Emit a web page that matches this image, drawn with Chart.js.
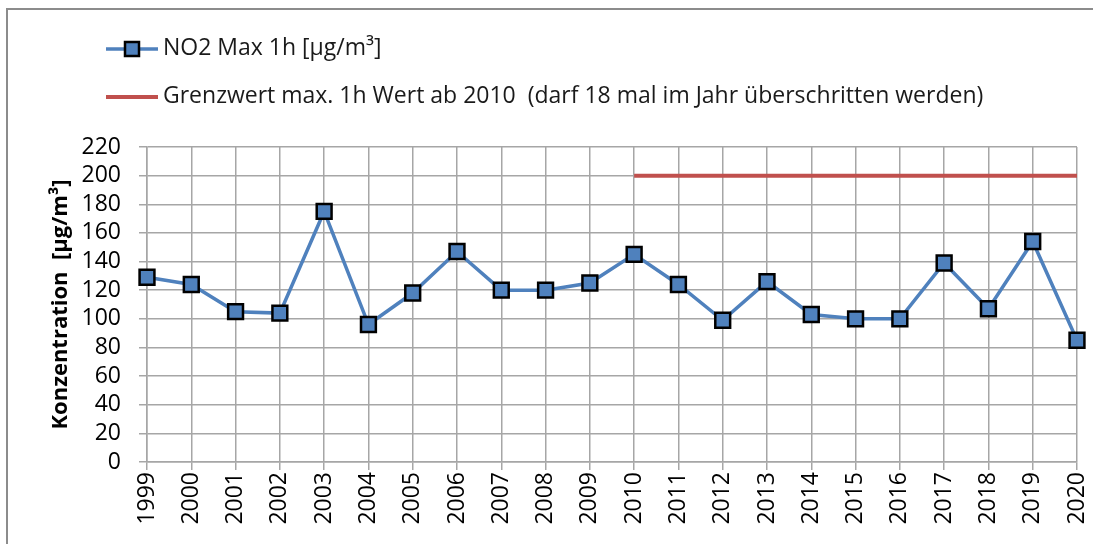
<!DOCTYPE html>
<html>
<head>
<meta charset="utf-8">
<script src="https://cdn.jsdelivr.net/npm/chart.js@4"></script>
<style>
  html, body { margin: 0; padding: 0; background: #fff; }
  #wrap { position: relative; width: 1093px; height: 544px; }
</style>
</head>
<body>
<div id="wrap"><canvas id="no2Chart" width="1093" height="544"></canvas></div>
<script>
// Jahre (x-Achse)
const years = ['1999', '2000', '2001', '2002', '2003', '2004', '2005', '2006', '2007', '2008', '2009',
               '2010', '2011', '2012', '2013', '2014', '2015', '2016', '2017', '2018', '2019', '2020'];

// NO2 Max 1h Werte in µg/m³
const no2Max = [129, 124, 105, 104, 175, 96, 118, 147, 120, 120, 125,
                145, 124, 99, 126, 103, 100, 100, 139, 107, 154, 85];

// Grenzwert 200 µg/m³ ab 2010
const grenzwert = [null, null, null, null, null, null, null, null, null, null, null,
                   200, 200, 200, 200, 200, 200, 200, 200, 200, 200, 200];

const labelNo2 = 'NO2 Max 1h [µg/m³]';
const labelGrenz = 'Grenzwert max. 1h Wert ab 2010  (darf 18 mal im Jahr überschritten werden)';

const blue = '#4f81bd';
const red = '#c0504d';
const gridGrey = '#a6a6a6';
const fontName = "'Open Sans', 'Noto Sans', sans-serif";

// Rahmen und Legende selbst zeichnen (wie im Original, untereinander)
const frameAndLegend = {
    id: 'frameAndLegend',
    afterDraw(chart) {
        const ctx = chart.ctx;
        ctx.save();
        // grauer Rahmen
        ctx.strokeStyle = '#8c8c8c';
        ctx.lineWidth = 2;
        ctx.beginPath();
        ctx.moveTo(7, 560);
        ctx.lineTo(7, 9);
        ctx.lineTo(1100, 9);
        ctx.stroke();

        // Legende 1: Linie mit Quadrat
        ctx.strokeStyle = blue;
        ctx.lineWidth = 3.5;
        ctx.beginPath();
        ctx.moveTo(106, 49);
        ctx.lineTo(158, 49);
        ctx.stroke();
        ctx.fillStyle = blue;
        ctx.strokeStyle = '#000';
        ctx.lineWidth = 2.5;
        ctx.fillRect(125, 42, 14, 14);
        ctx.strokeRect(125, 42, 14, 14);

        // Legende 2: rote Linie
        ctx.strokeStyle = red;
        ctx.lineWidth = 4;
        ctx.beginPath();
        ctx.moveTo(106, 97);
        ctx.lineTo(158, 97);
        ctx.stroke();

        ctx.fillStyle = '#1a1a1a';
        ctx.font = '23px ' + fontName;
        ctx.textBaseline = 'middle';
        ctx.textAlign = 'left';
        ctx.fillText(labelNo2, 163, 48);
        ctx.fillText(labelGrenz, 163, 96);
        ctx.restore();
    }
};

const config = {
    type: 'line',
    data: {
        labels: years,
        datasets: [
            {
                label: labelGrenz,
                data: grenzwert,
                borderColor: red,
                borderWidth: 4,
                pointRadius: 0,
                spanGaps: false,
                order: 2
            },
            {
                label: labelNo2,
                data: no2Max,
                borderColor: blue,
                borderWidth: 3.5,
                backgroundColor: blue,
                pointStyle: 'rect',
                pointRadius: 10.5,
                pointBorderColor: '#000',
                pointBackgroundColor: blue,
                pointBorderWidth: 2.5,
                order: 1
            }
        ]
    },
    options: {
        responsive: false,
        animation: false,
        layout: {
            padding: { top: 147, left: 40, right: 16, bottom: 0 }
        },
        scales: {
            x: {
                offset: false,
                grid: {
                    color: gridGrey,
                    lineWidth: 1.5,
                    tickLength: 8,
                    drawTicks: true
                },
                border: { color: gridGrey, width: 1.5 },
                ticks: {
                    color: '#000',
                    maxRotation: 90,
                    minRotation: 90,
                    padding: 2,
                    autoSkip: false,
                    font: { family: fontName, size: 23 }
                },
                afterFit(scale) {
                    scale.height = 82;
                    scale.paddingLeft = 0;
                    scale.paddingRight = 0;
                }
            },
            y: {
                min: 0,
                max: 220,
                grid: {
                    color: gridGrey,
                    lineWidth: 1.5,
                    tickLength: 8
                },
                border: { color: gridGrey, width: 1.5 },
                ticks: {
                    stepSize: 20,
                    autoSkip: false,
                    color: '#000',
                    padding: 18,
                    font: { family: fontName, size: 23 }
                },
                title: {
                    display: true,
                    text: 'Konzentration  [µg/m³]',
                    color: '#000',
                    padding: { top: 8, bottom: 0 },
                    font: { family: fontName, size: 22, weight: 'bold' }
                },
                afterFit(scale) { scale.width = 107; }
            }
        },
        plugins: {
            legend: { display: false },
            tooltip: { enabled: false }
        }
    },
    plugins: [frameAndLegend]
};

const no2Chart = new Chart(document.getElementById('no2Chart'), config);
</script>
</body>
</html>
